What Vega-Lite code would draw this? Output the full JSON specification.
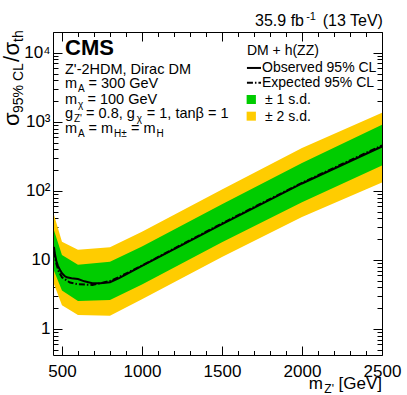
{
  "$schema": "https://vega.github.io/schema/vega-lite/v6.json",
  "width": 329,
  "height": 323,
  "autosize": "none",
  "padding": {"left": 53, "top": 32, "right": 25, "bottom": 40},
  "background": "white",
  "config": {
    "view": {"stroke": "black", "strokeWidth": 1},
    "axis": {"domain": false, "grid": false, "tickColor": "black", "tickWidth": 1, "labelColor": "black", "labelFont": "Liberation Sans", "labelFontSize": 17, "zindex": 1},
    "text": {"font": "Liberation Sans", "color": "black"}
  },
  "resolve": {"axis": {"x": "independent", "y": "independent"}},
  "data": {"values": [{}]},
  "datasets": {
    "band": [
      {"m": 450, "y2lo": 4.5, "y1lo": 7.0, "y1hi": 27, "y2hi": 45},
      {"m": 500, "y2lo": 2.2, "y1lo": 3.6, "y1hi": 11.8, "y2hi": 18.4},
      {"m": 600, "y2lo": 1.6, "y1lo": 2.55, "y1hi": 8.5, "y2hi": 14},
      {"m": 800, "y2lo": 1.56, "y1lo": 2.63, "y1hi": 9.4, "y2hi": 15.3},
      {"m": 1000, "y2lo": 2.69, "y1lo": 4.42, "y1hi": 15.7, "y2hi": 25.7},
      {"m": 1500, "y2lo": 11.0, "y1lo": 18.0, "y1hi": 63.8, "y2hi": 104.7},
      {"m": 2000, "y2lo": 41.7, "y1lo": 68.4, "y1hi": 254, "y2hi": 417},
      {"m": 2500, "y2lo": 132, "y1lo": 233, "y1hi": 905, "y2hi": 1350}
    ],
    "obs": [
      {"m": 450, "v": 15.5}, {"m": 455, "v": 12.5}, {"m": 465, "v": 9.6}, {"m": 475, "v": 8.2},
      {"m": 490, "v": 7.0}, {"m": 500, "v": 6.4}, {"m": 515, "v": 5.9}, {"m": 530, "v": 5.6},
      {"m": 560, "v": 5.45}, {"m": 600, "v": 5.3}, {"m": 640, "v": 4.9}, {"m": 690, "v": 4.6},
      {"m": 740, "v": 4.6}, {"m": 800, "v": 4.75}, {"m": 860, "v": 5.5}, {"m": 1000, "v": 8.2},
      {"m": 1500, "v": 33}, {"m": 2000, "v": 128}, {"m": 2500, "v": 439}
    ],
    "exp": [
      {"m": 450, "v": 13.3}, {"m": 465, "v": 8.8}, {"m": 480, "v": 6.8}, {"m": 500, "v": 5.6},
      {"m": 550, "v": 4.7}, {"m": 600, "v": 4.45}, {"m": 690, "v": 4.35}, {"m": 740, "v": 4.6},
      {"m": 800, "v": 4.95}, {"m": 860, "v": 5.7}, {"m": 1000, "v": 8.3}, {"m": 1500, "v": 33.9},
      {"m": 2000, "v": 131}, {"m": 2500, "v": 455}
    ]
  },
  "layer": [
    {
      "data": {"name": "band"},
      "mark": {"type": "area", "color": "#ffcc00", "opacity": 1},
      "encoding": {
        "x": {"field": "m", "type": "quantitative", "scale": {"type": "linear", "domain": [444, 2500], "nice": false, "zero": false}, "axis": null},
        "y": {"field": "y2lo", "type": "quantitative", "scale": {"type": "log", "domain": [0.42, 20000], "nice": false}, "axis": null},
        "y2": {"field": "y2hi"}
      }
    },
    {
      "data": {"name": "band"},
      "mark": {"type": "area", "color": "#00cc00", "opacity": 1},
      "encoding": {
        "x": {"field": "m", "type": "quantitative", "axis": null},
        "y": {"field": "y1lo", "type": "quantitative", "scale": {"type": "log"}, "axis": null},
        "y2": {"field": "y1hi"}
      }
    },
    {
      "data": {"name": "exp"},
      "mark": {"type": "line", "color": "black", "strokeWidth": 2, "strokeDash": [6, 2, 1.5, 2]},
      "encoding": {
        "x": {"field": "m", "type": "quantitative", "axis": null},
        "y": {"field": "v", "type": "quantitative", "scale": {"type": "log"}, "axis": null}
      }
    },
    {
      "data": {"name": "obs"},
      "mark": {"type": "line", "color": "black", "strokeWidth": 2},
      "encoding": {
        "x": {"field": "m", "type": "quantitative", "axis": null},
        "y": {"field": "v", "type": "quantitative", "scale": {"type": "log"}, "axis": null}
      }
    },
    {
      "mark": {"type": "point", "opacity": 0},
      "encoding": {
        "x": {"datum": 1000, "axis": {"orient": "bottom", "values": [500, 1000, 1500, 2000, 2500], "tickSize": -9, "labelPadding": 17, "labelFlush": false, "labelOverlap": false, "format": "d", "title": null}},
        "y": {"datum": 10, "scale": {"type": "log"}, "axis": {"orient": "left", "values": [1, 10, 100, 1000, 10000], "tickSize": -9, "labelPadding": 12, "labelOverlap": false, "labelExpr": "datum.value < 5 ? '1' : datum.value < 50 ? '10' : datum.value < 500 ? '10²' : datum.value < 5000 ? '10³' : '10⁴'", "title": null}}
      }
    },
    {
      "mark": {"type": "point", "opacity": 0},
      "encoding": {
        "x": {"datum": 1000, "axis": {"orient": "bottom", "values": [600, 700, 800, 900, 1100, 1200, 1300, 1400, 1600, 1700, 1800, 1900, 2100, 2200, 2300, 2400], "tickSize": -4.5, "labels": false, "title": null}},
        "y": {"datum": 10, "scale": {"type": "log"}, "axis": {"orient": "left", "values": [0.5, 0.6, 0.7, 0.8, 0.9, 2, 3, 4, 5, 6, 7, 8, 9, 20, 30, 40, 50, 60, 70, 80, 90, 200, 300, 400, 500, 600, 700, 800, 900, 2000, 3000, 4000, 5000, 6000, 7000, 8000, 9000, 20000], "tickSize": -5, "labels": false, "title": null}}
      }
    },
    {
      "mark": {"type": "point", "opacity": 0},
      "encoding": {
        "x": {"datum": 1000, "axis": {"orient": "top", "values": [500, 1000, 1500, 2000, 2500], "tickSize": -9, "labels": false, "title": null}},
        "y": {"datum": 10, "scale": {"type": "log"}, "axis": {"orient": "right", "values": [1, 10, 100, 1000, 10000], "tickSize": -9, "labels": false, "title": null}}
      }
    },
    {
      "mark": {"type": "point", "opacity": 0},
      "encoding": {
        "x": {"datum": 1000, "axis": {"orient": "top", "values": [600, 700, 800, 900, 1100, 1200, 1300, 1400, 1600, 1700, 1800, 1900, 2100, 2200, 2300, 2400], "tickSize": -4.5, "labels": false, "title": null}},
        "y": {"datum": 10, "scale": {"type": "log"}, "axis": {"orient": "right", "values": [0.5, 0.6, 0.7, 0.8, 0.9, 2, 3, 4, 5, 6, 7, 8, 9, 20, 30, 40, 50, 60, 70, 80, 90, 200, 300, 400, 500, 600, 700, 800, 900, 2000, 3000, 4000, 5000, 6000, 7000, 8000, 9000, 20000], "tickSize": -5, "labels": false, "title": null}}
      }
    },
    {"mark": {"type": "rect", "color": "#00cc00"}, "encoding": {"x": {"datum": 1654, "axis": null}, "x2": {"datum": 1712}, "y": {"datum": 2448, "scale": {"type": "log"}, "axis": null}, "y2": {"datum": 1812}}},
    {"mark": {"type": "rect", "color": "#ffcc00"}, "encoding": {"x": {"datum": 1654, "axis": null}, "x2": {"datum": 1712}, "y": {"datum": 1403, "scale": {"type": "log"}, "axis": null}, "y2": {"datum": 1040}}},
    {"mark": {"type": "rule", "color": "black", "strokeWidth": 2}, "encoding": {"x": {"datum": 1656, "axis": null}, "x2": {"datum": 1744}, "y": {"datum": 6030, "scale": {"type": "log"}, "axis": null}}},
    {"mark": {"type": "rule", "color": "black", "strokeWidth": 2, "strokeDash": [6, 2, 1.5, 2]}, "encoding": {"x": {"datum": 1656, "axis": null}, "x2": {"datum": 1744}, "y": {"datum": 3690, "scale": {"type": "log"}, "axis": null}}},

    {"mark": {"type": "text", "align": "left", "baseline": "alphabetic", "fontSize": 14}, "encoding": {"x": {"datum": 1656, "axis": null}, "y": {"datum": 9290, "scale": {"type": "log"}, "axis": null}, "text": {"value": "DM + h(ZZ)"}}},
    {"mark": {"type": "text", "align": "left", "baseline": "alphabetic", "fontSize": 14}, "encoding": {"x": {"datum": 1750, "axis": null}, "y": {"datum": 5271, "scale": {"type": "log"}, "axis": null}, "text": {"value": "Observed 95% CL"}}},
    {"mark": {"type": "text", "align": "left", "baseline": "alphabetic", "fontSize": 14}, "encoding": {"x": {"datum": 1750, "axis": null}, "y": {"datum": 3229, "scale": {"type": "log"}, "axis": null}, "text": {"value": "Expected 95% CL"}}},
    {"mark": {"type": "text", "align": "left", "baseline": "alphabetic", "fontSize": 14}, "encoding": {"x": {"datum": 1769, "axis": null}, "y": {"datum": 1812, "scale": {"type": "log"}, "axis": null}, "text": {"value": "± 1 s.d."}}},
    {"mark": {"type": "text", "align": "left", "baseline": "alphabetic", "fontSize": 14}, "encoding": {"x": {"datum": 1769, "axis": null}, "y": {"datum": 1040, "scale": {"type": "log"}, "axis": null}, "text": {"value": "± 2 s.d."}}},

    {"mark": {"type": "text", "align": "left", "baseline": "alphabetic", "fontSize": 22, "fontWeight": "bold"}, "encoding": {"x": {"datum": 519, "axis": null}, "y": {"datum": 9290, "scale": {"type": "log"}, "axis": null}, "text": {"value": "CMS"}}},
    {"mark": {"type": "text", "align": "left", "baseline": "alphabetic", "fontSize": 14.5}, "encoding": {"x": {"datum": 519, "axis": null}, "y": {"datum": 4932, "scale": {"type": "log"}, "axis": null}, "text": {"value": "Z'-2HDM, Dirac DM"}}},

    {"mark": {"type": "text", "align": "left", "baseline": "alphabetic", "fontSize": 14.5}, "encoding": {"x": {"datum": 519, "axis": null}, "y": {"datum": 3092, "scale": {"type": "log"}, "axis": null}, "text": {"value": "m"}}},
    {"mark": {"type": "text", "align": "left", "baseline": "alphabetic", "fontSize": 10}, "encoding": {"x": {"datum": 600.2, "axis": null}, "y": {"datum": 2705, "scale": {"type": "log"}, "axis": null}, "text": {"value": "A"}}},
    {"mark": {"type": "text", "align": "left", "baseline": "alphabetic", "fontSize": 14.5}, "encoding": {"x": {"datum": 665.9, "axis": null}, "y": {"datum": 3092, "scale": {"type": "log"}, "axis": null}, "text": {"value": "= 300 GeV"}}},

    {"mark": {"type": "text", "align": "left", "baseline": "alphabetic", "fontSize": 14.5}, "encoding": {"x": {"datum": 519, "axis": null}, "y": {"datum": 1814, "scale": {"type": "log"}, "axis": null}, "text": {"value": "m"}}},
    {"mark": {"type": "text", "align": "left", "baseline": "alphabetic", "fontSize": 10}, "encoding": {"x": {"datum": 600.2, "axis": null}, "y": {"datum": 1587, "scale": {"type": "log"}, "axis": null}, "text": {"value": "χ"}}},
    {"mark": {"type": "text", "align": "left", "baseline": "alphabetic", "fontSize": 14.5}, "encoding": {"x": {"datum": 659.6, "axis": null}, "y": {"datum": 1814, "scale": {"type": "log"}, "axis": null}, "text": {"value": "= 100 GeV"}}},

    {"mark": {"type": "text", "align": "left", "baseline": "alphabetic", "fontSize": 14.5}, "encoding": {"x": {"datum": 519, "axis": null}, "y": {"datum": 1137, "scale": {"type": "log"}, "axis": null}, "text": {"value": "g"}}},
    {"mark": {"type": "text", "align": "left", "baseline": "alphabetic", "fontSize": 10}, "encoding": {"x": {"datum": 575, "axis": null}, "y": {"datum": 995, "scale": {"type": "log"}, "axis": null}, "text": {"value": "Z'"}}},
    {"mark": {"type": "text", "align": "left", "baseline": "alphabetic", "fontSize": 14.5}, "encoding": {"x": {"datum": 650.6, "axis": null}, "y": {"datum": 1137, "scale": {"type": "log"}, "axis": null}, "text": {"value": "= 0.8, g"}}},
    {"mark": {"type": "text", "align": "left", "baseline": "alphabetic", "fontSize": 10}, "encoding": {"x": {"datum": 968, "axis": null}, "y": {"datum": 995, "scale": {"type": "log"}, "axis": null}, "text": {"value": "χ"}}},
    {"mark": {"type": "text", "align": "left", "baseline": "alphabetic", "fontSize": 14.5}, "encoding": {"x": {"datum": 1030, "axis": null}, "y": {"datum": 1137, "scale": {"type": "log"}, "axis": null}, "text": {"value": "= 1, tanβ = 1"}}},

    {"mark": {"type": "text", "align": "left", "baseline": "alphabetic", "fontSize": 14.5}, "encoding": {"x": {"datum": 519, "axis": null}, "y": {"datum": 689.5, "scale": {"type": "log"}, "axis": null}, "text": {"value": "m"}}},
    {"mark": {"type": "text", "align": "left", "baseline": "alphabetic", "fontSize": 10}, "encoding": {"x": {"datum": 600.2, "axis": null}, "y": {"datum": 603.4, "scale": {"type": "log"}, "axis": null}, "text": {"value": "A"}}},
    {"mark": {"type": "text", "align": "left", "baseline": "alphabetic", "fontSize": 14.5}, "encoding": {"x": {"datum": 665.9, "axis": null}, "y": {"datum": 689.5, "scale": {"type": "log"}, "axis": null}, "text": {"value": "= m"}}},
    {"mark": {"type": "text", "align": "left", "baseline": "alphabetic", "fontSize": 10}, "encoding": {"x": {"datum": 825.2, "axis": null}, "y": {"datum": 603.4, "scale": {"type": "log"}, "axis": null}, "text": {"value": "H±"}}},
    {"mark": {"type": "text", "align": "left", "baseline": "alphabetic", "fontSize": 14.5}, "encoding": {"x": {"datum": 931.4, "axis": null}, "y": {"datum": 689.5, "scale": {"type": "log"}, "axis": null}, "text": {"value": "= m"}}},
    {"mark": {"type": "text", "align": "left", "baseline": "alphabetic", "fontSize": 10}, "encoding": {"x": {"datum": 1090.8, "axis": null}, "y": {"datum": 603.4, "scale": {"type": "log"}, "axis": null}, "text": {"value": "H"}}},

    {"mark": {"type": "text", "align": "right", "baseline": "alphabetic", "fontSize": 16}, "encoding": {"x": {"datum": 2506, "axis": null}, "y": {"datum": 24430, "scale": {"type": "log"}, "axis": null}, "text": {"value": "(13 TeV)"}}},
    {"mark": {"type": "text", "align": "right", "baseline": "alphabetic", "fontSize": 11}, "encoding": {"x": {"datum": 2087, "axis": null}, "y": {"datum": 29850, "scale": {"type": "log"}, "axis": null}, "text": {"value": "-1"}}},
    {"mark": {"type": "text", "align": "right", "baseline": "alphabetic", "fontSize": 16}, "encoding": {"x": {"datum": 2012.5, "axis": null}, "y": {"datum": 24430, "scale": {"type": "log"}, "axis": null}, "text": {"value": "35.9 fb"}}},

    {"mark": {"type": "text", "align": "right", "baseline": "alphabetic", "fontSize": 17}, "encoding": {"x": {"datum": 2500, "axis": null}, "y": {"datum": 0.135, "scale": {"type": "log"}, "axis": null}, "text": {"value": "[GeV]"}}},
    {"mark": {"type": "text", "align": "right", "baseline": "alphabetic", "fontSize": 12}, "encoding": {"x": {"datum": 2200, "axis": null}, "y": {"datum": 0.118, "scale": {"type": "log"}, "axis": null}, "text": {"value": "Z'"}}},
    {"mark": {"type": "text", "align": "right", "baseline": "alphabetic", "fontSize": 17}, "encoding": {"x": {"datum": 2131, "axis": null}, "y": {"datum": 0.135, "scale": {"type": "log"}, "axis": null}, "text": {"value": "m"}}},

    {"mark": {"type": "text", "align": "left", "baseline": "alphabetic", "fontSize": 22, "angle": 270}, "encoding": {"x": {"datum": 231.5, "axis": null}, "y": {"datum": 871, "scale": {"type": "log"}, "axis": null}, "text": {"value": "σ"}}},
    {"mark": {"type": "text", "align": "left", "baseline": "alphabetic", "fontSize": 14, "angle": 270}, "encoding": {"x": {"datum": 256.5, "axis": null}, "y": {"datum": 1343, "scale": {"type": "log"}, "axis": null}, "text": {"value": "95% CL"}}},
    {"mark": {"type": "text", "align": "left", "baseline": "alphabetic", "fontSize": 22, "angle": 270}, "encoding": {"x": {"datum": 231.5, "axis": null}, "y": {"datum": 7358, "scale": {"type": "log"}, "axis": null}, "text": {"value": "/"}}},
    {"mark": {"type": "text", "align": "left", "baseline": "alphabetic", "fontSize": 22, "angle": 270}, "encoding": {"x": {"datum": 231.5, "axis": null}, "y": {"datum": 9141, "scale": {"type": "log"}, "axis": null}, "text": {"value": "σ"}}},
    {"mark": {"type": "text", "align": "left", "baseline": "alphabetic", "fontSize": 14, "angle": 270}, "encoding": {"x": {"datum": 256.5, "axis": null}, "y": {"datum": 14330, "scale": {"type": "log"}, "axis": null}, "text": {"value": "th"}}}
  ]
}
